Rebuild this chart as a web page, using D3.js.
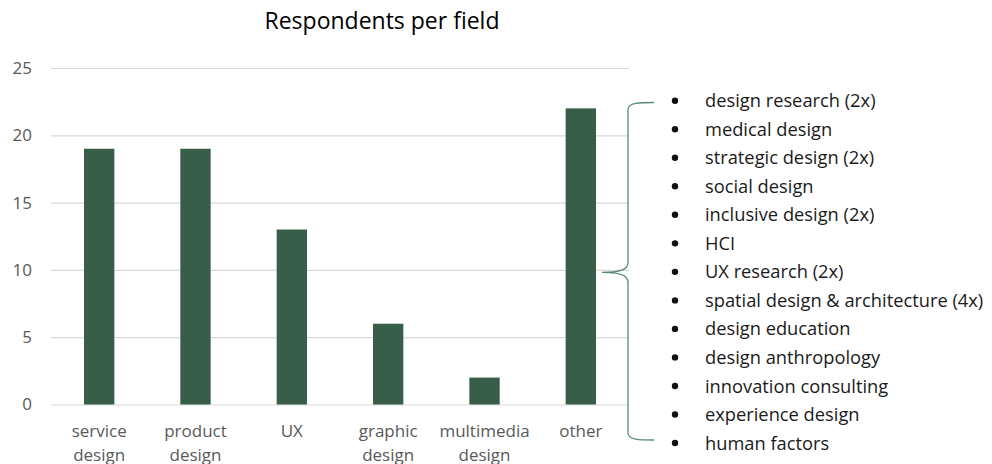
<!DOCTYPE html>
<html>
<head>
<meta charset="utf-8">
<script src="https://cdn.jsdelivr.net/npm/d3@7"></script>
<style>
  html, body { margin: 0; padding: 0; background: #ffffff; }
  svg { display: block; }
</style>
</head>
<body>
<svg id="chart" width="992" height="464"></svg>
<script>
const title = "Respondents per field";
const categories = [["service", "design"], ["product", "design"], ["UX"], ["graphic", "design"], ["multimedia", "design"], ["other"]];
const values = [19, 19, 13, 6, 2, 22];
const yTicks = [0, 5, 10, 15, 20, 25];
const otherFields = [
  "design research (2x)",
  "medical design",
  "strategic design (2x)",
  "social design",
  "inclusive design (2x)",
  "HCI",
  "UX research (2x)",
  "spatial design & architecture (4x)",
  "design education",
  "design anthropology",
  "innovation consulting",
  "experience design",
  "human factors"
];

(function () {
const svg = d3.select("#chart");
const font = "'Open Sans', sans-serif";
const margin = { left: 51, right: 363, top: 68, bottom: 59.5 };
const W = 992, H = 464;

const x = d3.scaleBand()
  .domain(d3.range(categories.length))
  .range([margin.left, W - margin.right])
  .paddingInner(0.685)
  .paddingOuter(0.3425);

const y = d3.scaleLinear().domain([0, 25]).range([H - margin.bottom, margin.top]);

// title
svg.append("text")
  .attr("x", 382).attr("y", 29)
  .attr("text-anchor", "middle")
  .attr("font-family", font)
  .attr("font-size", 23)
  .attr("fill", "#000")
  .text(title);

// y axis / grid
const yAxis = d3.axisLeft(y).tickValues(yTicks).tickSize(-(W - margin.left - margin.right)).tickPadding(19);
const gy = svg.append("g").attr("transform", `translate(${margin.left},0)`).call(yAxis);
gy.select(".domain").remove();
gy.selectAll(".tick line").attr("stroke", "#d9d9d9").attr("stroke-width", 1.2);
gy.selectAll(".tick text").attr("font-family", font).attr("font-size", 17).attr("fill", "#595959");

// bars
svg.append("g").selectAll("rect").data(values).join("rect")
  .attr("x", (d, i) => x(i))
  .attr("width", x.bandwidth())
  .attr("y", d => y(d))
  .attr("height", d => y(0) - y(d))
  .attr("fill", "#385e4a");

// x labels
const xAxis = d3.axisBottom(x).tickSize(0).tickFormat(() => "");
const gx = svg.append("g").attr("transform", `translate(0,${y(0)})`).call(xAxis);
gx.select(".domain").remove();
gx.selectAll(".tick").each(function(i) {
  const t = d3.select(this).append("text")
    .attr("text-anchor", "middle")
    .attr("font-family", font)
    .attr("font-size", 17)
    .attr("fill", "#595959");
  categories[i].forEach((line, k) => {
    t.append("tspan").attr("x", 0).attr("y", 32 + k * 24).text(line);
  });
});

// brace
const bx = 628, bTop = 102.5, bBot = 440, mid = y(10) + 2.5, tipX = 602, endX = 654;
const bracePath = d3.path();
bracePath.moveTo(endX, bTop);
bracePath.bezierCurveTo(640, bTop, bx, bTop, bx, bTop + 7);
bracePath.lineTo(bx, mid - 10);
bracePath.bezierCurveTo(bx, mid - 2, 618, mid, tipX, mid);
bracePath.bezierCurveTo(618, mid, bx, mid + 2, bx, mid + 10);
bracePath.lineTo(bx, bBot - 7);
bracePath.bezierCurveTo(bx, bBot, 640, bBot, endX, bBot);
svg.append("path").attr("d", bracePath.toString())
  .attr("fill", "none").attr("stroke", "#5e8a74").attr("stroke-width", 1.3);

// list
const ly = d3.scalePoint().domain(d3.range(otherFields.length)).range([100.7, 443]);
const lg = svg.append("g");
lg.selectAll("circle").data(otherFields).join("circle")
  .attr("cx", 675).attr("cy", (d, i) => ly(i)).attr("r", 3.2).attr("fill", "#111");
lg.selectAll("text").data(otherFields).join("text")
  .attr("x", 705).attr("y", (d, i) => ly(i))
  .attr("dy", "0.36em")
  .attr("font-family", font)
  .attr("font-size", 18.3)
  .attr("fill", "#1a1a1a")
  .text(d => d);
})();
</script>
</body>
</html>
